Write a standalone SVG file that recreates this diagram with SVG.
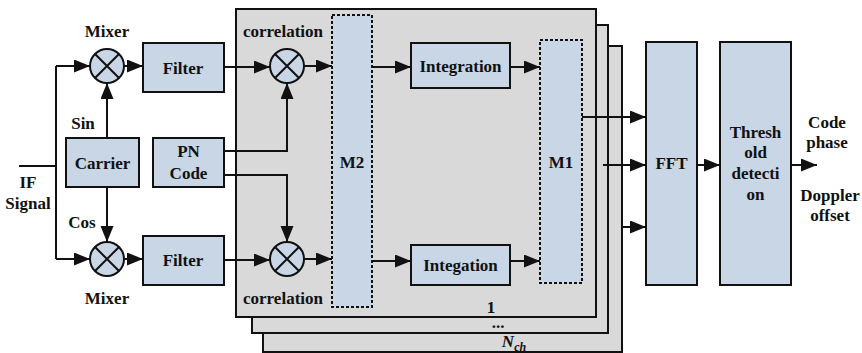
<svg xmlns="http://www.w3.org/2000/svg" width="862" height="353" viewBox="0 0 862 353">
<defs>
<style>
text{font-family:"Liberation Serif","Times New Roman",serif;font-weight:bold;font-size:17px;fill:#111;text-anchor:middle}
.box{fill:#c8d6e6;stroke:#111;stroke-width:2}
.dash{fill:#c8d6e6;stroke:#111;stroke-width:2;stroke-dasharray:3 2}
.panel{fill:#d9d9d9;stroke:#111;stroke-width:2}
.ln{fill:none;stroke:#111;stroke-width:2}
.ar{fill:none;stroke:#111;stroke-width:2;marker-end:url(#ah)}
</style>
<marker id="ah" markerUnits="userSpaceOnUse" markerWidth="18" markerHeight="14" refX="16" refY="6.5" orient="auto">
<path d="M0,0 L16,6.5 L0,13 Z" fill="#111"/>
</marker>
<g id="mult">
<circle r="17" class="box"/>
<path d="M-12,-12 L12,12 M12,-12 L-12,12" class="ln"/>
</g>
</defs>
<rect width="862" height="353" fill="#fff"/>

<g id="panel-nch"><rect x="263" y="46" width="359" height="306" class="panel"/><text x="514" y="347" font-style="italic">N<tspan font-size="12" dy="4">ch</tspan></text></g>
<g id="panel-dots"><rect x="252" y="25" width="356" height="308" class="panel"/><text x="498" y="328">...</text></g>
<g id="panel-1"><rect x="236" y="9" width="360" height="308" class="panel"/><text x="491" y="313">1</text></g>

<g id="carrier"><rect x="66" y="138" width="73" height="49" class="box"/><text x="102.5" y="169">Carrier</text></g>
<g id="pncode"><rect x="153" y="138" width="71" height="49" class="box"/><text x="188.5" y="157">PN</text><text x="188.5" y="179">Code</text></g>
<g id="filter-top"><rect x="143" y="43" width="81" height="49" class="box"/><text x="183" y="74">Filter</text></g>
<g id="filter-bot"><rect x="143" y="236" width="81" height="49" class="box"/><text x="183" y="266">Filter</text></g>
<g id="mixer-top"><use href="#mult" x="107" y="66"/><text x="107" y="37">Mixer</text></g>
<g id="mixer-bot"><use href="#mult" x="107" y="259"/><text x="107" y="304">Mixer</text></g>
<g id="corr-top"><use href="#mult" x="287" y="66"/><text x="283" y="37">correlation</text></g>
<g id="corr-bot"><use href="#mult" x="287" y="259"/><text x="283" y="304">correlation</text></g>
<g id="m2"><rect x="332" y="15" width="40" height="292" class="dash"/><text x="352" y="168">M2</text></g>
<g id="m1"><rect x="540" y="40" width="42" height="243" class="dash"/><text x="561" y="168">M1</text></g>
<g id="integ-top"><rect x="411" y="43" width="99" height="45" class="box"/><text x="460.5" y="72">Integration</text></g>
<g id="integ-bot"><rect x="411" y="245" width="99" height="40" class="box"/><text x="460.5" y="271">Integation</text></g>
<g id="fft"><rect x="646" y="42" width="51" height="243" class="box"/><text x="671.5" y="169">FFT</text></g>
<g id="thresh"><rect x="720" y="42" width="71" height="243" class="box"/><text x="755.5" y="138">Thresh</text><text x="755.5" y="158">old</text><text x="755.5" y="179">detecti</text><text x="755.5" y="200">on</text></g>

<g id="labels">
<text x="28" y="188">IF</text><text x="28" y="209">Signal</text>
<text x="83" y="129">Sin</text><text x="82" y="228">Cos</text>
<text x="827" y="128">Code</text><text x="827" y="148">phase</text>
<text x="830" y="201">Doppler</text><text x="830" y="221">offset</text>
</g>

<g id="connectors">
<path d="M19,166 H56 M56,66 V259" class="ln"/>
<path d="M56,66 H90" class="ar"/>
<path d="M56,259 H90" class="ar"/>
<path d="M107,138 V83" class="ar"/>
<path d="M107,187 V242" class="ar"/>
<path d="M124,66 H143" class="ar"/>
<path d="M124,259 H143" class="ar"/>
<path d="M224,67 H270" class="ar"/>
<path d="M224,260 H270" class="ar"/>
<path d="M224,151 H287 V83" class="ar"/>
<path d="M224,175 H287 V242" class="ar"/>
<path d="M304,66 H332" class="ar"/>
<path d="M304,259 H332" class="ar"/>
<path d="M372,67 H411" class="ar"/>
<path d="M372,261 H411" class="ar"/>
<path d="M510,67 H540" class="ar"/>
<path d="M510,261 H540" class="ar"/>
<path d="M582,117 H646" class="ar"/>
<path d="M603,165 H646" class="ar"/>
<path d="M622,227 H646" class="ar"/>
<path d="M697,165 H720" class="ar"/>
<path d="M791,165 H817" class="ar"/>
</g>
</svg>
